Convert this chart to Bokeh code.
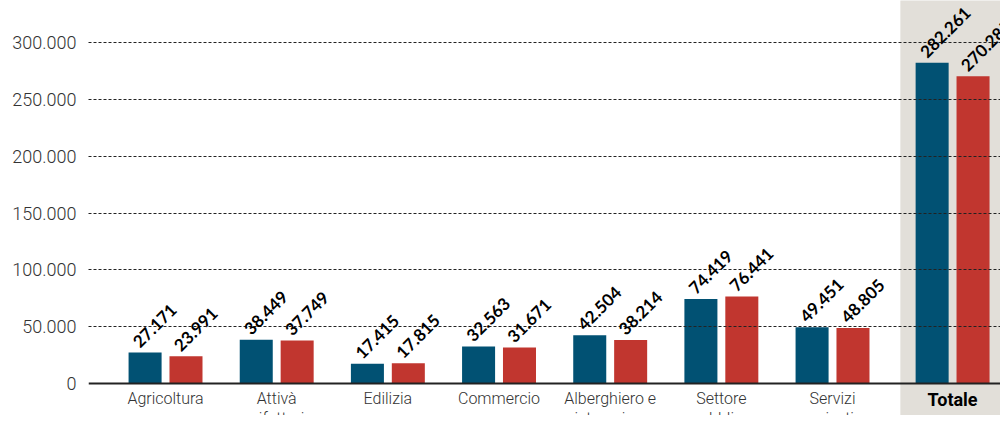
import numpy as np
from bokeh.plotting import figure
from bokeh.models import Range1d, FixedTicker, Span
from bokeh.core.properties import value
from bokeh.embed import file_html
from bokeh.resources import INLINE

categories = ["Agricoltura", "Attivà\nmanifatturiere", "Edilizia", "Commercio",
              "Alberghiero e\nristorazione", "Settore\npubblico", "Servizi\nprivati", "Totale"]
series_a = [27171, 38449, 17415, 32563, 42504, 74419, 49451, 282261]
series_b = [23991, 37749, 17815, 31671, 38214, 76441, 48805, 270285]
y_ticks = [0, 50000, 100000, 150000, 200000, 250000, 300000]
y_tick_labels = ["0", "50.000", "100.000", "150.000", "200.000", "250.000", "300.000"]

BLUE = "#015173"
RED = "#c1362f"
GREY_BG = "#e2dfd9"
LIGHT_FONT = "'Roboto Light', Roboto"


def fmt(v):
    return f"{v:,}".replace(",", ".")


labels_a = [fmt(v) for v in series_a]
labels_b = [fmt(v) for v in series_b]

xpos = np.arange(len(categories), dtype=float)
xpos[-1] += 0.08  # extra gap before the total group
dx = 0.184
bw = 0.297

p = figure(width=1000, height=415, output_backend="svg", toolbar_location=None,
           x_range=Range1d(-0.693, 7.511), y_range=Range1d(-28152, 336950),
           x_axis_location=None, min_border_left=88, min_border_right=0,
           min_border_top=0, min_border_bottom=0)
p.outline_line_color = None
p.background_fill_color = "white"
p.border_fill_color = "white"

# grey background behind the total group
p.quad(left=[xpos[-1] - 0.47], right=[xpos[-1] + 0.7], bottom=[-30800], top=[400000],
       color=GREY_BG, line_color=None, level="image")

p.vbar(x=xpos - dx, top=series_a, width=bw, color=BLUE, line_color=None)
p.vbar(x=xpos + dx, top=series_b, width=bw, color=RED, line_color=None)

p.xgrid.visible = False
p.ygrid.ticker = FixedTicker(ticks=y_ticks[1:])
p.ygrid.grid_line_color = "#222222"
p.ygrid.grid_line_dash = "3 2"
p.ygrid.grid_line_width = 1
p.ygrid.level = "guide"

zero = Span(location=0, dimension="width", line_color="#222222", line_width=2, level="guide")
p.add_layout(zero)

ax = p.yaxis[0]
ax.ticker = FixedTicker(ticks=y_ticks)
ax.major_label_overrides = dict(zip(y_ticks, y_tick_labels))
ax.axis_line_color = None
ax.major_tick_line_color = None
ax.minor_tick_line_color = None
ax.major_tick_out = 0
ax.major_tick_in = 0
ax.minor_tick_out = 0
ax.major_label_standoff = 12
ax.major_label_text_font = LIGHT_FONT
ax.major_label_text_font_size = "18px"
ax.major_label_text_color = "#333333"

for xs, vals, labs in ((xpos - dx, series_a, labels_a), (xpos + dx, series_b, labels_b)):
    p.text(x=xs, y=vals, text=labs, angle=45, angle_units="deg",
           x_offset=-9, y_offset=-8, text_align="left", text_baseline="alphabetic",
           text_font=value("Lato"), text_font_style="bold", text_font_size="17px",
           text_color="#000000", level="overlay")

p.text(x=xpos[:-1], y=[0] * (len(categories) - 1), text=categories[:-1],
       text_align="center", text_baseline="top", y_offset=5,
       text_font=value(LIGHT_FONT), text_font_size="16px", text_line_height=1.1,
       text_color="#333333", level="overlay")
p.text(x=xpos[-1:], y=[0], text=categories[-1:],
       text_align="center", text_baseline="top", y_offset=5,
       text_font=value("Roboto"), text_font_style="bold", text_font_size="18px",
       text_color="#000000", level="overlay")

open("out.html", "w").write(file_html(p, INLINE))
